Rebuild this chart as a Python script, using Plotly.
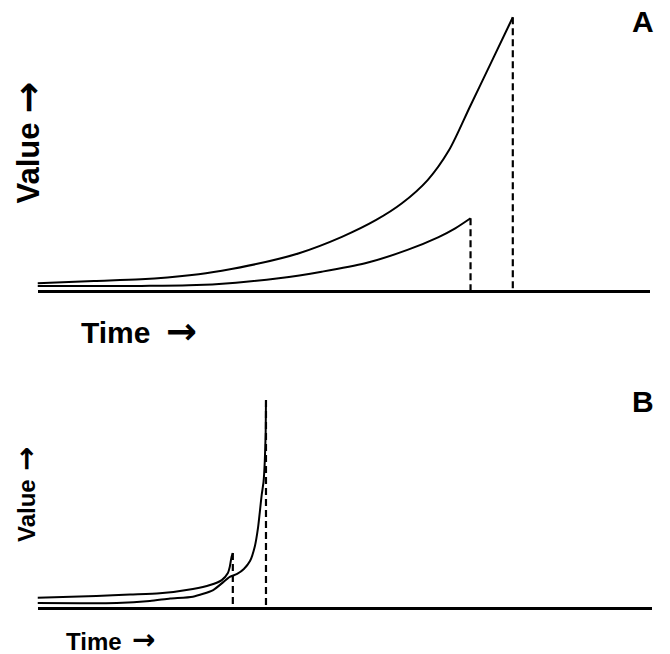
import plotly.graph_objects as go

# ---- data (arbitrary units: time 0-100 along axis, value 0-100) ----
# Panel A
a_upper_t = [0.0, 9.2, 16.9, 25.2, 30.1, 35.7, 42.7, 49.7, 55.3, 59.5, 63.7, 67.2, 70.6, 74.0, 77.6]
a_upper_v = [2.5, 3.3, 3.9, 5.5, 7.1, 9.5, 13.5, 19.5, 25.7, 31.8, 40.3, 51.3, 67.2, 83.1, 100.0]
a_lower_t = [0.0, 17.0, 24.7, 32.4, 39.4, 46.4, 53.5, 60.4, 65.4, 68.2, 70.7]
a_lower_v = [1.5, 1.5, 1.7, 2.7, 4.3, 6.7, 9.8, 14.7, 19.3, 22.6, 26.3]
# Panel B
b_small_t = [0.0, 9.6, 15.1, 19.9, 25.3, 28.1, 30.0, 31.0, 31.3, 31.6, 31.8]
b_small_v = [4.5, 5.3, 6.0, 6.6, 8.7, 10.6, 13.0, 16.4, 19.3, 24.3, 26.1]
b_tall_t = [0.0, 6.9, 12.9, 18.3, 21.6, 25.3, 28.6, 31.3, 32.5, 33.6, 34.6, 35.4, 35.9, 36.2, 36.5, 36.8, 37.0, 37.15, 37.2]
b_tall_v = [1.9, 1.8, 1.9, 2.9, 4.1, 5.0, 8.2, 14.5, 16.0, 18.4, 22.2, 29.5, 38.2, 46.0, 54.1, 60.4, 70.0, 84.5, 100.0]

W, H = 670, 654
FONT = "Liberation Sans, Arial, sans-serif"
ARROWFONT = "DejaVu Sans"

def px_x(p):
    return p / W

def px_y(p):
    return 1 - p / H

fig = go.Figure()

line = dict(color="black", width=2, shape="spline", smoothing=0.8)
line_b = dict(color="black", width=2, shape="spline", smoothing=0.6)
dash = dict(color="black", width=2.2, dash="7px,4px")

# Panel A traces
fig.add_trace(go.Scatter(x=a_upper_t, y=a_upper_v, mode="lines", line=line, xaxis="x", yaxis="y"))
fig.add_trace(go.Scatter(x=a_lower_t, y=a_lower_v, mode="lines", line=line, xaxis="x", yaxis="y"))
fig.add_trace(go.Scatter(x=[a_upper_t[-1], a_upper_t[-1]], y=[a_upper_v[-1], 0], mode="lines", line=dash, xaxis="x", yaxis="y"))
fig.add_trace(go.Scatter(x=[a_lower_t[-1], a_lower_t[-1]], y=[a_lower_v[-1], 0], mode="lines", line=dash, xaxis="x", yaxis="y"))

# Panel B traces
fig.add_trace(go.Scatter(x=b_small_t, y=b_small_v, mode="lines", line=line_b, xaxis="x2", yaxis="y2"))
fig.add_trace(go.Scatter(x=b_tall_t, y=b_tall_v, mode="lines", line=line_b, xaxis="x2", yaxis="y2"))
fig.add_trace(go.Scatter(x=[b_tall_t[-1], b_tall_t[-1]], y=[b_tall_v[-1], 0], mode="lines", line=dash, xaxis="x2", yaxis="y2"))
fig.add_trace(go.Scatter(x=[b_small_t[-1], b_small_t[-1]], y=[b_small_v[-1], 0], mode="lines", line=dash, xaxis="x2", yaxis="y2"))

# axis geometry (pixels)
A_left, A_right, A_base, A_top100 = 37.5, 650.0, 290.0, 17.3
B_left, B_right, B_base, B_top100 = 37.5, 651.7, 607.0, 400.0
YMAX = 104

def ydomain(base, top100):
    top = base - (base - top100) * YMAX / 100
    return [px_y(base), px_y(top)]

xa = dict(showgrid=False, zeroline=False, showticklabels=False, ticks="",
          showline=True, linecolor="black", linewidth=3, range=[0, 100])
ya = dict(showgrid=False, zeroline=False, showticklabels=False, ticks="",
          showline=False, range=[0, YMAX])

fig.update_layout(
    width=W, height=H,
    margin=dict(l=0, r=0, t=0, b=0),
    paper_bgcolor="white", plot_bgcolor="rgba(0,0,0,0)",
    showlegend=False,
    xaxis=dict(xa, domain=[px_x(A_left), px_x(A_right)], anchor="y"),
    yaxis=dict(ya, domain=ydomain(A_base, A_top100), anchor="x"),
    xaxis2=dict(xa, domain=[px_x(B_left), px_x(B_right)], anchor="y2"),
    yaxis2=dict(ya, domain=ydomain(B_base, B_top100), anchor="x2"),
)

def ann(text, x, y, size, angle=0, family=FONT, anchor="center"):
    fig.add_annotation(text=text, x=px_x(x), y=px_y(y), xref="paper", yref="paper",
                       showarrow=False, xanchor=anchor, yanchor="middle", textangle=angle,
                       font=dict(family=family, size=size, color="black", weight="bold"))

ann("A", 642.5, 22, 30)
ann("B", 642.7, 401, 30)
# axis titles (word and its arrow)
ann("Value", 27.5, 163, 31, -90)
ann("→", 27.5, 98, 38, -90, ARROWFONT)
ann("Time", 115, 332, 30)
ann("→", 182, 331, 37, 0, ARROWFONT)
ann("Value", 26, 511, 24, -90)
ann("→", 26, 459, 29, -90, ARROWFONT)
ann("Time", 94, 641, 24)
ann("→", 143, 639, 28, 0, ARROWFONT)

fig.write_html("out.html", config={"displayModeBar": False},
               post_script="document.body.style.margin='0';document.body.style.overflow='hidden';")
